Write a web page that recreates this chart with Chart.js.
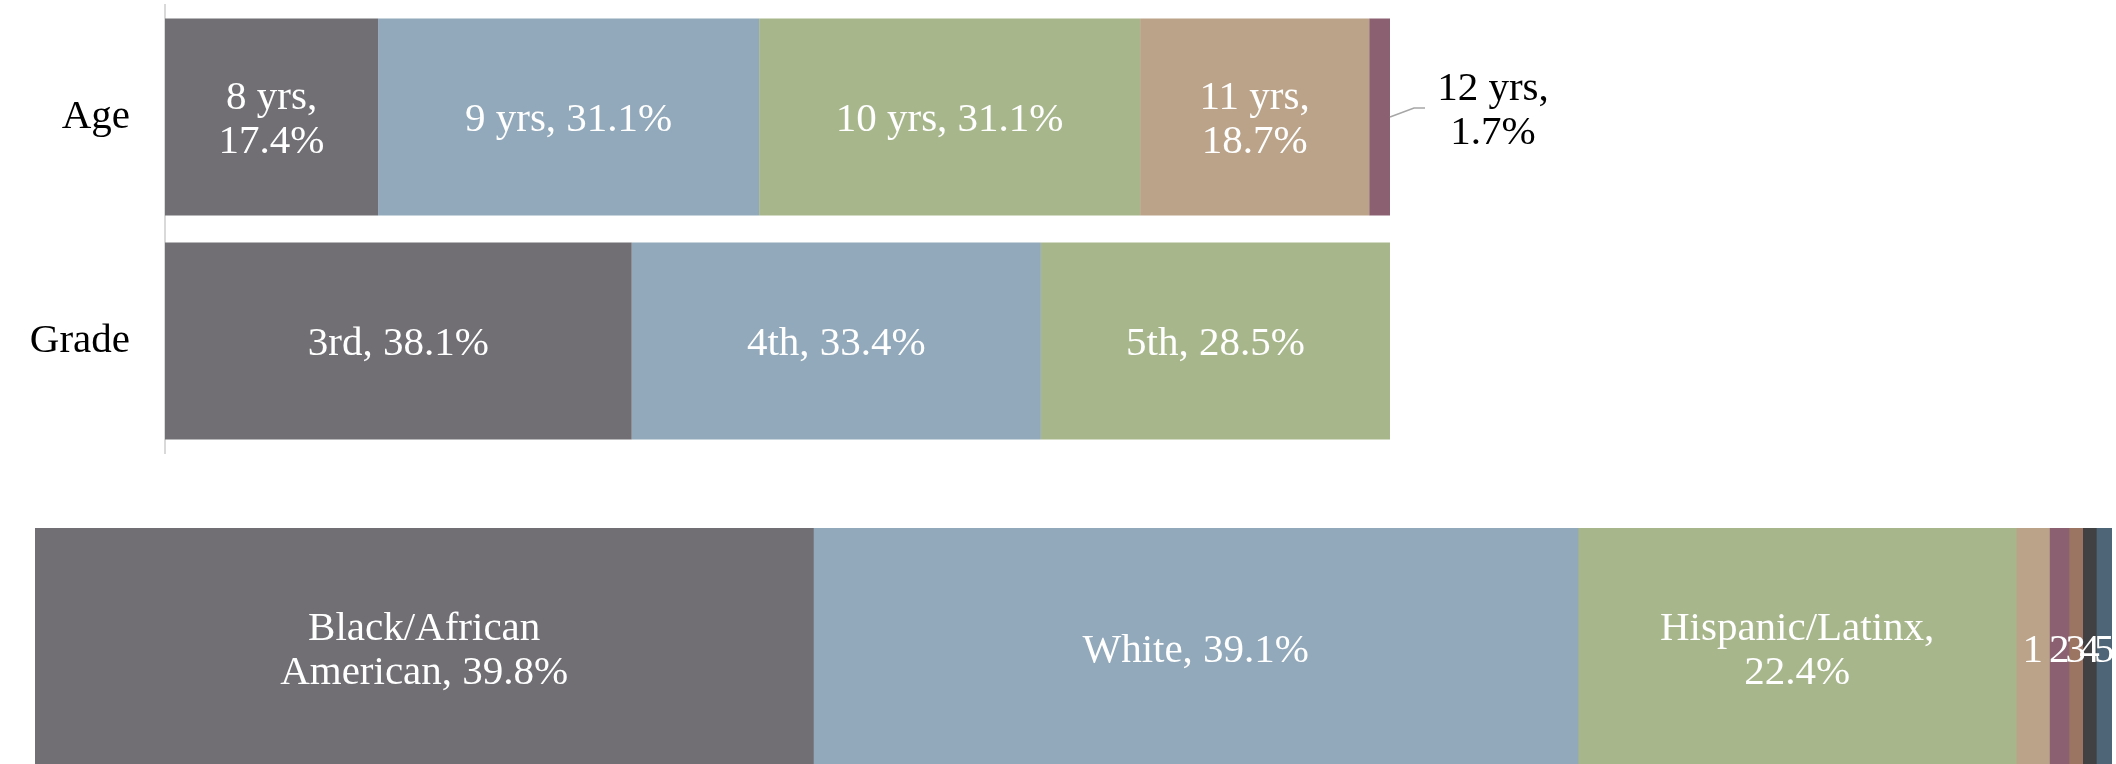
<!DOCTYPE html>
<html>
<head>
<meta charset="utf-8">
<script src="https://cdn.jsdelivr.net/npm/chart.js@4"></script>
<style>
  html, body { margin: 0; padding: 0; overflow: hidden; background: #fff; width: 2116px; height: 764px; }
  .wrap { position: absolute; left: 0; width: 2116px; }
</style>
</head>
<body>
<div class="wrap" style="top:0;height:460px"><canvas id="top"></canvas></div>
<div class="wrap" style="top:528px;height:240px"><canvas id="bottom"></canvas></div>
<script>
const rows = ["Age", "Grade"];
const ageNames = ["8 yrs", "9 yrs", "10 yrs", "11 yrs", "12 yrs"];
const ageValues = [17.4, 31.1, 31.1, 18.7, 1.7];
const gradeNames = ["3rd", "4th", "5th"];
const gradeValues = [38.1, 33.4, 28.5];
const raceNames = ["Black/African American", "White", "Hispanic/Latinx", "1", "2", "3", "4", "5"];
const raceValues = [39.8, 39.1, 22.4, 1.7, 1.0, 0.7, 0.7, 0.8];
const colors = ["#716f74", "#91a9ba", "#a7b78b", "#bba389", "#8b6172", "#9c7462", "#414042", "#4e6578"];

const FONT = '"Liberation Serif", "Times New Roman", serif';
const SIZE = 41;
const LINE = 44;

// split into two balanced lines when the text is too wide
function splitLabel(ctx, text, maxW) {
  if (ctx.measureText(text).width <= maxW) return [text];
  const words = text.split(" ");
  let best = null, bestW = Infinity;
  for (let i = 1; i < words.length; i++) {
    const a = words.slice(0, i).join(" ");
    const b = words.slice(i).join(" ");
    const w = Math.max(ctx.measureText(a).width, ctx.measureText(b).width);
    if (w < bestW) { bestW = w; best = [a, b]; }
  }
  return best || [text];
}

function drawLines(ctx, lines, x, cy) {
  const cap = SIZE * 0.66;
  const first = cy - (lines.length - 1) * LINE / 2;
  lines.forEach((l, i) => ctx.fillText(l, x, first + i * LINE + cap / 2));
}

const topLabels = {
  id: "topLabels",
  afterDatasetsDraw(chart) {
    const ctx = chart.ctx;
    const groups = [[ageNames, ageValues], [gradeNames, gradeValues]];
    ctx.save();
    ctx.font = SIZE + "px " + FONT;
    ctx.textAlign = "center";
    chart.data.datasets.forEach((ds, di) => {
      chart.getDatasetMeta(di).data.forEach((bar, ri) => {
        const names = groups[ri][0], values = groups[ri][1];
        if (values[di] == null) return;
        const text = names[di] + ", " + values[di].toFixed(1) + "%";
        const w = bar.x - bar.base;
        if (values[di] < 5) {
          // small slice: callout to the right
          const x0 = bar.x, y0 = bar.y;
          ctx.strokeStyle = "#a6a6a6";
          ctx.lineWidth = 1.5;
          ctx.beginPath();
          ctx.moveTo(x0, y0);
          ctx.lineTo(x0 + 24, y0 - 9);
          ctx.lineTo(x0 + 35, y0 - 9);
          ctx.stroke();
          ctx.fillStyle = "#000";
          drawLines(ctx, splitLabel(ctx, text, 0), x0 + 103, y0 - 9);
        } else {
          ctx.fillStyle = "#fff";
          drawLines(ctx, splitLabel(ctx, text, w * 0.65), (bar.x + bar.base) / 2, bar.y);
        }
      });
    });
    ctx.restore();
  }
};

const bottomLabels = {
  id: "bottomLabels",
  afterDatasetsDraw(chart) {
    const ctx = chart.ctx;
    ctx.save();
    ctx.font = SIZE + "px " + FONT;
    ctx.textAlign = "center";
    ctx.fillStyle = "#fff";
    chart.data.datasets.forEach((ds, di) => {
      const bar = chart.getDatasetMeta(di).data[0];
      const v = raceValues[di];
      const text = v < 3 ? raceNames[di] : raceNames[di] + ", " + v.toFixed(1) + "%";
      const w = bar.x - bar.base;
      drawLines(ctx, splitLabel(ctx, text, w * 0.65), (bar.x + bar.base) / 2, bar.y);
    });
    ctx.restore();
  }
};

const common = {
  responsive: true,
  maintainAspectRatio: false,
  animation: false,
  indexAxis: "y",
  plugins: { legend: { display: false }, tooltip: { enabled: false } }
};

new Chart(document.getElementById("top"), {
  type: "bar",
  data: {
    labels: rows,
    datasets: colors.slice(0, 5).map((c, i) => ({
      data: [ageValues[i] ?? null, gradeValues[i] ?? null],
      backgroundColor: c,
      borderWidth: 0,
      barPercentage: 0.88,
      categoryPercentage: 1
    }))
  },
  options: {
    ...common,
    layout: { padding: { top: 5, bottom: 7, left: 0, right: 726 } },
    scales: {
      x: { stacked: true, display: false, min: 0, max: 100 },
      y: {
        stacked: true,
        grid: { display: false, drawTicks: false },
        border: { display: true, color: "#d9d9d9", width: 2 },
        ticks: { color: "#000", font: { family: FONT, size: SIZE }, padding: 35 },
        afterFit(scale) {
          scale.width = 165;
          scale.paddingTop = 0;
          scale.paddingBottom = 0;
        }
      }
    }
  },
  plugins: [topLabels]
});

new Chart(document.getElementById("bottom"), {
  type: "bar",
  data: {
    labels: ["Race"],
    datasets: raceValues.map((v, i) => ({
      data: [v],
      backgroundColor: colors[i],
      borderWidth: 0,
      barPercentage: 1,
      categoryPercentage: 1
    }))
  },
  options: {
    ...common,
    layout: { padding: { top: 0, bottom: 0, left: 35, right: 4 } },
    scales: {
      x: { stacked: true, display: false, min: 0, max: raceValues.reduce((a, b) => a + b, 0) },
      y: { stacked: true, display: false }
    }
  },
  plugins: [bottomLabels]
});
</script>
</body>
</html>
